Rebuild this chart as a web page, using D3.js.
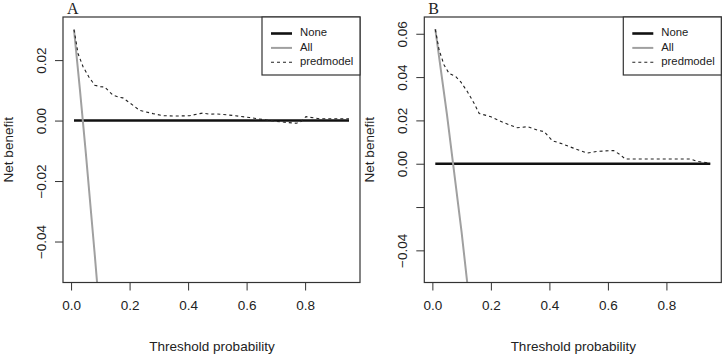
<!DOCTYPE html>
<html>
<head>
<meta charset="utf-8">
<script src="https://cdn.jsdelivr.net/npm/d3@7"></script>
<style>
  body { margin: 0; background: #fff; }
  text { font-family: "Liberation Sans", Arial, sans-serif; fill: #222; }
</style>
</head>
<body>
<div id="chart"></div>
<script>
// threshold range used by both curves
const xlim = [0.01, 0.95];
const xTicks = [0, 0.2, 0.4, 0.6, 0.8];

// Panel A
const ylimA = [-0.0503, 0.031];
const yTicksA = [-0.04, -0.02, 0, 0.02];
const noneA = [[0.01, 0], [0.95, 0]];
const allA = [[0.01, 0.0301], [0.03, 0.0105], [0.05, -0.0103], [0.08, -0.0433], [0.10, -0.0664]];
const predA = [
  [0.01, 0.0301], [0.024, 0.0221], [0.041, 0.0178], [0.061, 0.0144], [0.081, 0.0117],
  [0.10, 0.0112], [0.115, 0.0111], [0.143, 0.0084], [0.165, 0.0077], [0.177, 0.0075],
  [0.211, 0.0051], [0.234, 0.0034], [0.28, 0.0023], [0.314, 0.0016], [0.359, 0.0015],
  [0.405, 0.0016], [0.44, 0.0023], [0.451, 0.0025], [0.473, 0.0021], [0.497, 0.0022],
  [0.553, 0.0017], [0.61, 0.001], [0.667, 0.0002], [0.713, -0.0004], [0.77, -0.0009],
  [0.786, -0.0003], [0.803, 0.0013], [0.849, 0.0006], [0.95, 0.0006]
];

// Panel B
const ylimB = [-0.0503, 0.0632];
const yTicksB = [-0.04, -0.02, 0, 0.02, 0.04, 0.06];
const noneB = [[0.01, 0], [0.95, 0]];
const allB = [[0.01, 0.0621], [0.05, 0.0226], [0.10, -0.0317], [0.15, -0.0923]];
const predB = [
  [0.01, 0.062], [0.023, 0.0525], [0.04, 0.0456], [0.057, 0.0417], [0.08, 0.0402],
  [0.097, 0.0378], [0.12, 0.0332], [0.143, 0.0278], [0.16, 0.0232], [0.2, 0.0217],
  [0.245, 0.0189], [0.29, 0.0166], [0.325, 0.0171], [0.359, 0.0155], [0.382, 0.0148],
  [0.41, 0.0106], [0.439, 0.0094], [0.482, 0.0072], [0.528, 0.0049], [0.562, 0.0057],
  [0.619, 0.0061], [0.642, 0.0042], [0.659, 0.0022], [0.778, 0.0022], [0.881, 0.0022],
  [0.904, 0.0011], [0.95, 0.0002]
];

const legendNames = ["None", "All", "predmodel"];

const W = 724, H = 356;
const svg = d3.select("#chart").append("svg").attr("width", W).attr("height", H);

// R style axis expansion (4% each side)
function expand(lim) {
  const d = (lim[1] - lim[0]) * 0.04;
  return [lim[0] - d, lim[1] + d];
}

function drawPanel(cfg) {
  const { left, right, top, bottom } = cfg.box;
  const g = svg.append("g");

  const x = d3.scaleLinear().domain(expand(xlim)).range([left, right]);
  const y = d3.scaleLinear().domain(expand(cfg.ylim)).range([bottom, top]);

  const clipId = "clip" + cfg.label;
  g.append("clipPath").attr("id", clipId)
    .append("rect").attr("x", left).attr("y", top)
    .attr("width", right - left).attr("height", bottom - top);

  const line = d3.line().x(d => x(d[0])).y(d => y(d[1]));
  const plot = g.append("g").attr("clip-path", `url(#${clipId})`);

  plot.append("path").datum(cfg.none).attr("d", line)
    .attr("fill", "none").attr("stroke", "#111").attr("stroke-width", 2.6);
  plot.append("path").datum(cfg.all).attr("d", line)
    .attr("fill", "none").attr("stroke", "#a0a0a0").attr("stroke-width", 2);
  plot.append("path").datum(cfg.pred).attr("d", line)
    .attr("fill", "none").attr("stroke", "#222").attr("stroke-width", 1.1)
    .attr("stroke-dasharray", "3,3");

  // x axis
  const xAxis = g.append("g").attr("transform", `translate(0,${bottom})`)
    .call(d3.axisBottom(x).tickValues(xTicks).tickFormat(d3.format(".1f"))
      .tickSize(8).tickPadding(10));
  xAxis.select(".domain").attr("d", `M${x(0)},0H${x(0.8)}`).attr("stroke", "#333");
  xAxis.selectAll(".tick line").attr("stroke", "#333");
  xAxis.selectAll("text").style("font-size", "13.5px").attr("fill", "#222");

  // y axis, labels rotated like R's default las = 0
  const yAxis = g.append("g").attr("transform", `translate(${left},0)`)
    .call(d3.axisLeft(y).tickValues(cfg.yTicks)
      .tickFormat(d => cfg.hideLabels.includes(d) ? "" : d3.format(".2f")(d).replace("-", "\u2212"))
      .tickSize(8).tickPadding(0));
  yAxis.select(".domain").remove();
  yAxis.selectAll(".tick line").attr("stroke", "#333");
  yAxis.selectAll("text")
    .style("font-size", "13.5px").attr("fill", "#222")
    .attr("text-anchor", "middle").attr("x", 0).attr("dy", 0)
    .attr("transform", "translate(-21,0) rotate(-90)")
    .attr("dominant-baseline", "middle");

  // plot box
  g.append("rect").attr("x", left).attr("y", top)
    .attr("width", right - left).attr("height", bottom - top)
    .attr("fill", "none").attr("stroke", "#333").attr("stroke-width", 1.2);

  // axis titles
  g.append("text").attr("x", (left + right) / 2 + 0.5).attr("y", 351)
    .attr("text-anchor", "middle").style("font-size", "13.5px")
    .text("Threshold probability");
  g.append("text")
    .attr("transform", `translate(${left - 54},${(top + bottom) / 2}) rotate(-90)`)
    .attr("text-anchor", "middle").attr("dominant-baseline", "middle")
    .style("font-size", "13.5px").text("Net benefit");

  // panel letter
  g.append("text").attr("x", left + 4).attr("y", 14)
    .style("font-family", "'Liberation Serif', 'Times New Roman', serif")
    .style("font-size", "16px").text(cfg.label);

  // legend
  const lg = g.append("g").attr("transform", `translate(${right - 98},${top})`);
  lg.append("rect").attr("width", 98).attr("height", 58)
    .attr("fill", "#fff").attr("stroke", "#333").attr("stroke-width", 1.2);
  const styles = [
    { stroke: "#111", w: 2.6, dash: null },
    { stroke: "#a0a0a0", w: 2, dash: null },
    { stroke: "#222", w: 1.1, dash: "3,3" }
  ];
  legendNames.forEach((name, i) => {
    const yy = 16.5 + i * 14.4;
    lg.append("line").attr("x1", 9).attr("x2", 30).attr("y1", yy).attr("y2", yy)
      .attr("stroke", styles[i].stroke).attr("stroke-width", styles[i].w)
      .attr("stroke-dasharray", styles[i].dash);
    lg.append("text").attr("x", 38).attr("y", yy).attr("dominant-baseline", "middle")
      .style("font-size", "11.3px").text(name);
  });
}

drawPanel({
  label: "A", box: { left: 63, right: 360, top: 17, bottom: 282.5 },
  ylim: ylimA, yTicks: yTicksA, hideLabels: [],
  none: noneA, all: allA, pred: predA
});
drawPanel({
  label: "B", box: { left: 424.3, right: 721.3, top: 17, bottom: 282.5 },
  ylim: ylimB, yTicks: yTicksB, hideLabels: [-0.02],
  none: noneB, all: allB, pred: predB
});
</script>
</body>
</html>
